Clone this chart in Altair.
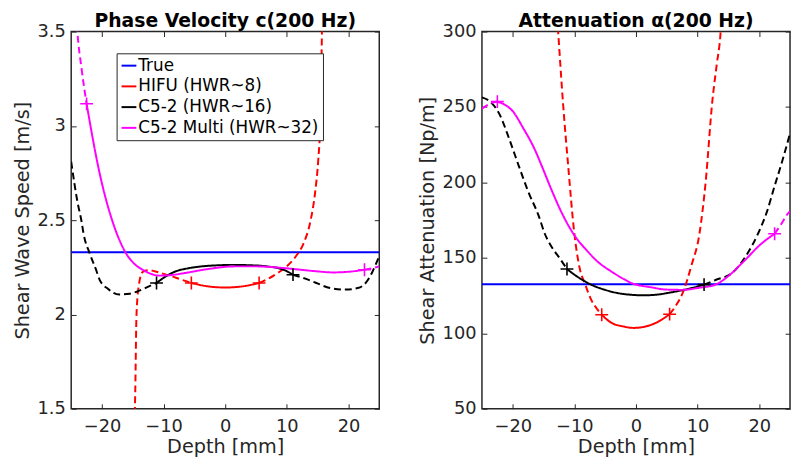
import altair as alt
import pandas as pd

# ---------------- data ----------------
series = ["True", "HIFU (HWR~8)", "C5-2 (HWR~16)", "C5-2 Multi (HWR~32)"]
colors = ["#0000ff", "#ff0000", "#000000", "#ff00ff"]

x_ticks = [-20, -10, 0, 10, 20]
c_ticks = [1.5, 2, 2.5, 3, 3.5]
a_ticks = [50, 100, 150, 200, 250, 300]

true_x = [-25, 25]
true_c = [2.33, 2.33]
true_a = [132.5, 132.5]

# ---- Phase velocity (left panel) ----
hifu_c_l_x = [-14.8, -14.6, -14.4, -14.0, -13.4, -12.5, -11.0, -9.5, -8.0, -6.5, -5.5]
hifu_c_l_y = [1.30, 1.60, 2.00, 2.16, 2.225, 2.235, 2.225, 2.21, 2.195, 2.178, 2.167]
hifu_c_s_x = [-5.5, -3.0, 0.0, 3.0, 5.5]
hifu_c_s_y = [2.167, 2.150, 2.143, 2.150, 2.167]
hifu_c_r_x = [5.5, 7.0, 8.5, 10.0, 11.5, 12.7, 13.8, 14.6, 15.1, 15.4, 15.7, 15.9]
hifu_c_r_y = [2.167, 2.19, 2.22, 2.256, 2.31, 2.376, 2.49, 2.65, 2.82, 3.0, 3.5, 3.9]

c52_c_l_x = [-25, -24, -23.3, -23, -22, -21, -20.4, -19, -17.2, -15.5, -14.5, -13, -11.15]
c52_c_l_y = [2.81, 2.60, 2.49, 2.43, 2.324, 2.24, 2.185, 2.135, 2.106, 2.11, 2.119, 2.14, 2.167]
c52_c_s_x = [-11.15, -9.5, -8, -6, -3.8, -1, 1, 4, 6.8, 9.5, 11]
c52_c_s_y = [2.167, 2.205, 2.229, 2.245, 2.255, 2.261, 2.263, 2.261, 2.255, 2.237, 2.211]
c52_c_r_x = [11, 13, 14.8, 17, 19.6, 21.5, 22.8, 23.8, 24.4, 25]
c52_c_r_y = [2.211, 2.19, 2.167, 2.14, 2.132, 2.14, 2.167, 2.22, 2.263, 2.31]

mul_c_l_x = [-24.3, -24.0, -23.3, -22.5]
mul_c_l_y = [3.65, 3.5, 3.30, 3.117]
mul_c_s_x = [-22.5, -20.4, -17.7, -16.1, -14.8, -13.4, -12, -10.8, -8.5, -6.5, -3, 1.5, 5, 9.5, 12, 14.8, 17.5, 20.5, 22.6]
mul_c_s_y = [3.117, 2.751, 2.438, 2.324, 2.27, 2.237, 2.215, 2.206, 2.21, 2.22, 2.24, 2.255, 2.255, 2.246, 2.238, 2.229, 2.223, 2.228, 2.237]
mul_c_r_x = [22.6, 23.8, 25]
mul_c_r_y = [2.237, 2.245, 2.255]

# ---- Attenuation (right panel) ----
hifu_a_l_x = [-12.8, -12.6, -11.85, -11.0, -10.0, -9.2, -8.2, -7.3, -6.3, -5.56]
hifu_a_l_y = [310, 297.8, 253, 210.7, 166, 144.3, 132, 122.5, 116, 112.3]
hifu_a_s_x = [-5.56, -4, -2, -0.4, 1.5, 3.5, 5.46]
hifu_a_s_y = [112.3, 107, 104.5, 103.6, 104.5, 107.5, 112.7]
hifu_a_r_x = [5.46, 6.5, 7.6, 9, 10.3, 11.3, 12.4, 13.1, 13.7, 13.9]
hifu_a_r_y = [112.7, 118.5, 126.9, 145, 166, 200, 254.3, 278, 297.8, 310]

c52_a_l_x = [-25, -23.8, -22.2, -20.5, -19.0, -17.5, -15.8, -14.8, -13.8, -12.6, -11.2]
c52_a_l_y = [256.4, 254, 245.6, 228, 210.7, 194, 178, 166, 158, 151, 142.6]
c52_a_s_x = [-11.2, -9.5, -7.3, -5, -3, -0.9, 1.2, 3.5, 5.5, 7.6, 9.5, 11.05]
c52_a_s_y = [142.6, 137.5, 132.3, 128.8, 126.7, 125.6, 125.2, 125.7, 127.0, 128.7, 130.5, 132.3]
c52_a_r_x = [11.05, 13, 15.6, 17.8, 19.8, 21.2, 22.5, 23.8, 25]
c52_a_r_y = [132.3, 135.5, 140, 151, 166, 180, 197.7, 215, 232.5]

mul_a_l_x = [-25, -24, -23.2, -22.5]
mul_a_l_y = [248.9, 251.5, 253, 253.6]
mul_a_s_x = [-22.5, -21.3, -20.1, -18.3, -16.4, -15.3, -13.7, -12.1, -10.0, -8.0, -6.25, -4.0, -2.0, -0.9, 2.5, 4.9, 7.5, 10.25, 12.9, 15, 17.2, 20.4, 22.5]
mul_a_s_y = [253.6, 251.5, 247.7, 236, 221.6, 211, 195, 180.3, 165, 155, 147.6, 141, 136, 133.6, 130.5, 129, 128.8, 130.2, 132.3, 138, 146.5, 159.6, 166]
mul_a_r_x = [22.5, 23.5, 24.4, 25]
mul_a_r_y = [166, 172, 178, 181]


# ---------------- tables ----------------
def build(parts):
    rows, marks = [], []
    for name, segs in parts:
        for k, (style, xs, ys) in enumerate(segs):
            for x, y in zip(xs, ys):
                rows.append({"series": name, "seg": f"{name}-{k}", "style": style,
                             "depth": x, "value": y})
            if style == "solid" and name != "True":
                marks.append({"series": name, "depth": xs[0], "value": ys[0]})
                marks.append({"series": name, "depth": xs[-1], "value": ys[-1]})
    return pd.DataFrame(rows), pd.DataFrame(marks)


c_lines, c_marks = build([
    (series[0], [("solid", true_x, true_c)]),
    (series[1], [("dashed", hifu_c_l_x, hifu_c_l_y), ("solid", hifu_c_s_x, hifu_c_s_y), ("dashed", hifu_c_r_x, hifu_c_r_y)]),
    (series[2], [("dashed", c52_c_l_x, c52_c_l_y), ("solid", c52_c_s_x, c52_c_s_y), ("dashed", c52_c_r_x, c52_c_r_y)]),
    (series[3], [("dashed", mul_c_l_x, mul_c_l_y), ("solid", mul_c_s_x, mul_c_s_y), ("dashed", mul_c_r_x, mul_c_r_y)]),
])
a_lines, a_marks = build([
    (series[0], [("solid", true_x, true_a)]),
    (series[1], [("dashed", hifu_a_l_x, hifu_a_l_y), ("solid", hifu_a_s_x, hifu_a_s_y), ("dashed", hifu_a_r_x, hifu_a_r_y)]),
    (series[2], [("dashed", c52_a_l_x, c52_a_l_y), ("solid", c52_a_s_x, c52_a_s_y), ("dashed", c52_a_r_x, c52_a_r_y)]),
    (series[3], [("dashed", mul_a_l_x, mul_a_l_y), ("solid", mul_a_s_x, mul_a_s_y), ("dashed", mul_a_r_x, mul_a_r_y)]),
])

FONT = "DejaVu Sans"
AX = "#262626"
W, H = 312, 382


def panel(lines_df, marks_df, ydom, yticks, ytitle, title, show_legend):
    xs = alt.Scale(domain=[-25, 25], nice=False, zero=False)
    ys = alt.Scale(domain=ydom, nice=False, zero=False)
    cs = alt.Scale(domain=series, range=colors)
    common = dict(domain=False, tickSize=5, offset=-5, tickColor=AX, tickWidth=1,
                  labelFont=FONT, labelFontSize=18, labelColor=AX,
                  titleFont=FONT, titleFontSize=19.5, titleColor=AX, titleFontWeight="normal",
                  grid=False)
    ax_bottom = alt.Axis(orient="bottom", values=x_ticks, title="Depth [mm]", labelPadding=9,
                         titlePadding=2, minExtent=0, **common)
    ax_left = alt.Axis(orient="left", values=yticks, title=ytitle, format=".2~f", labelPadding=6,
                       titlePadding=5, minExtent=0, **common)
    ax_top = alt.Axis(orient="top", values=x_ticks, labels=False, title=None, minExtent=0, maxExtent=0, **common)
    ax_right = alt.Axis(orient="right", values=yticks, labels=False, title=None, minExtent=0, maxExtent=0, **common)

    if show_legend:
        legend = alt.Legend(title=None, orient="none", legendX=46, legendY=22,
                            symbolType="stroke", symbolSize=225, symbolStrokeWidth=2,
                            labelFont=FONT, labelFontSize=17, labelColor="black",
                            labelOffset=1, labelLimit=400, rowPadding=3, padding=4,
                            strokeColor=AX, fillColor="white", cornerRadius=0)
    else:
        legend = None

    lines = alt.Chart(lines_df).mark_line(clip=True, strokeWidth=2, interpolate="monotone").encode(
        x=alt.X("depth:Q", scale=xs, axis=ax_bottom),
        y=alt.Y("value:Q", scale=ys, axis=ax_left),
        color=alt.Color("series:N", scale=cs, legend=legend, sort=series),
        strokeDash=alt.StrokeDash("style:N", scale=alt.Scale(domain=["solid", "dashed"], range=[[1, 0], [7, 4]]), legend=None),
        detail="seg:N",
    )
    pts = alt.Chart(marks_df).mark_point(
        shape="M-1,0L1,0M0,-1L0,1", filled=False, size=170, strokeWidth=1.6, opacity=1, clip=True
    ).encode(
        x=alt.X("depth:Q", scale=xs, axis=ax_top),
        y=alt.Y("value:Q", scale=ys, axis=ax_right),
        color=alt.Color("series:N", scale=cs, legend=None),
    )
    return alt.layer(lines, pts).resolve_axis(x="independent", y="independent").properties(
        width=W, height=H,
        title=alt.TitleParams(title, font=FONT, fontSize=19, fontWeight="bold", color="black",
                              anchor="middle", offset=-8),
    )


left = panel(c_lines, c_marks, [1.5, 3.5], c_ticks, "Shear Wave Speed [m/s]", "Phase Velocity c(200 Hz)", True)
right = panel(a_lines, a_marks, [50, 300], a_ticks, "Shear Attenuation [Np/m]", "Attenuation α(200 Hz)", False)

chart = alt.hconcat(left, right, spacing=35).resolve_scale(color="independent").resolve_legend(
    color="independent"
).properties(
    padding={"left": 3, "top": 0, "right": 0, "bottom": 0}, background="white"
).configure_view(stroke=AX, strokeWidth=1.5)

chart.save("out.html", embed_options={"renderer": "svg", "actions": False})
